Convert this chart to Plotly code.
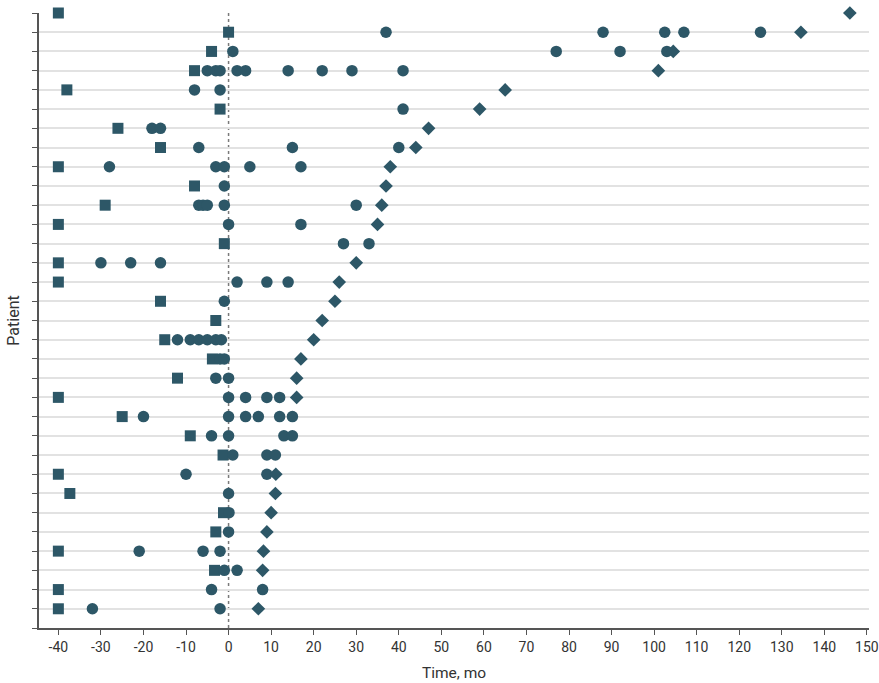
import plotly.graph_objects as go

# Patients numbered from the bottom row (1) to the top row (32)
patients = list(range(1, 33))

# Start of observation (square), months relative to time 0
start_mo = [-40, -40, -3.3, -40, -3, -1.2, -37.3, -40, -1.3, -9,
            -25, -40, -12, -3.8, -15, -3, -16, -40, -40, -1,
            -40, -29, -8, -40, -16, -26, -2, -38, -8, -4,
            0, -40]

# Events (circles) per patient, months
events_mo = [
    [-32, -2],
    [-4, 8],
    [-1, 2],
    [-21, -6, -2],
    [0],
    [0.1],
    [0],
    [-10, 9],
    [1, 9, 11],
    [-4, 0, 13, 15],
    [-20, 0, 4, 7, 12, 15],
    [0, 4, 9, 12],
    [-3, 0],
    [-2, -1],
    [-12, -9, -7, -5, -3, -1.7],
    [],
    [-1],
    [2, 9, 14],
    [-30, -23, -16],
    [27, 33],
    [0, 17],
    [-7, -6, -5, -1, 30],
    [-1],
    [-28, -3, -1, 5, 17],
    [-7, 15, 40],
    [-18, -16],
    [41],
    [-8, -2],
    [-5, -3, -2, 2, 4, 14, 22, 29, 41],
    [1, 77, 92, 103],
    [37, 88, 102.5, 107, 125],
    [],
]

# End of follow-up (diamond), months; None where not shown
end_mo = [7, None, 8, 8.2, 9, 10, 11, 11.1, None, None,
          None, 16, 16, 17, 20, 22, 25, 26, 30, None,
          35, 36, 37, 38, 44, 47, 59, 65, 101, 104.5,
          134.5, 146]

x_ticks = list(range(-40, 151, 10))

MARK = "#2D5767"
FONT = "Roboto, sans-serif"
TXT = "#333333"

ev_x, ev_y = [], []
for p, evs in zip(patients, events_mo):
    for e in evs:
        ev_x.append(e)
        ev_y.append(p)

end_x = [e for e in end_mo if e is not None]
end_y = [p for p, e in zip(patients, end_mo) if e is not None]

fig = go.Figure()
fig.add_trace(go.Scatter(
    x=start_mo, y=patients, mode="markers", cliponaxis=False,
    marker=dict(symbol="square", size=11, color=MARK, line=dict(width=0)),
    showlegend=False, hoverinfo="skip"))
fig.add_trace(go.Scatter(
    x=ev_x, y=ev_y, mode="markers", cliponaxis=False,
    marker=dict(symbol="circle", size=11.5, color=MARK, line=dict(width=0)),
    showlegend=False, hoverinfo="skip"))
fig.add_trace(go.Scatter(
    x=end_x, y=end_y, mode="markers", cliponaxis=False,
    marker=dict(symbol="diamond", size=10.5, color=MARK, line=dict(width=0)),
    showlegend=False, hoverinfo="skip"))

# dotted reference line at time 0
fig.add_shape(type="line", x0=0, x1=0, y0=0, y1=1, xref="x", yref="paper",
              line=dict(color="#7a7a7a", width=1.5, dash="dot"), layer="between")

fig.update_layout(
    width=879, height=683,
    margin=dict(l=39, r=10, t=13, b=55, autoexpand=False),
    paper_bgcolor="white", plot_bgcolor="white",
    font=dict(family=FONT, size=14, color=TXT),
    showlegend=False,
)
fig.update_xaxes(
    range=[-44.55, 150.5], tickvals=x_ticks, ticktext=[str(v) for v in x_ticks],
    ticks="outside", ticklen=5, tickcolor="#555555", tickwidth=1,
    showline=True, linecolor="#555555", linewidth=1.5,
    showgrid=False, zeroline=False, automargin=False,
    tickfont=dict(family=FONT, size=14, color=TXT),
    title=dict(text="Time, mo", font=dict(family=FONT, size=15.5, color=TXT), standoff=14),
)
fig.update_yaxes(
    range=[0, 32], tickvals=list(range(0, 33)), ticktext=[""] * 33,
    ticks="outside", ticklen=5, tickcolor="#555555", tickwidth=1,
    showline=True, linecolor="#555555", linewidth=1.5,
    showgrid=True, gridcolor="#e2e2e2", gridwidth=2, zeroline=False, automargin=False,
    title=dict(text="Patient", font=dict(family=FONT, size=16, color=TXT), standoff=6),
)

fig.write_html("out.html")
